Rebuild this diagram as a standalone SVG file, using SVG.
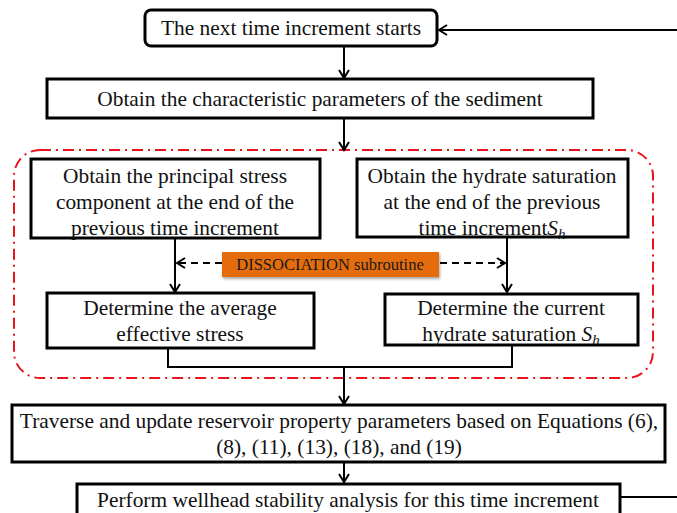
<svg xmlns="http://www.w3.org/2000/svg" width="677" height="513" viewBox="0 0 677 513">
<defs>
<marker id="arr" markerWidth="12" markerHeight="12" refX="10" refY="6" orient="auto" markerUnits="userSpaceOnUse">
<path d="M2,1 L10,6 L2,11" fill="none" stroke="#000" stroke-width="2"/>
</marker>
<filter id="sh" x="-10%" y="-20%" width="130%" height="160%">
<feDropShadow dx="1" dy="2" stdDeviation="1.5" flood-color="#000" flood-opacity="0.35"/>
</filter>
</defs>
<style>
.box{fill:#fff;stroke:#000;stroke-width:3}
.t{font-family:"Liberation Serif","Times New Roman",serif;font-size:21.4px;fill:#111;text-anchor:middle}
.c{fill:none;stroke:#000;stroke-width:2}
.d{fill:none;stroke:#000;stroke-width:2;stroke-dasharray:7 5}
.red{fill:none;stroke:#e8141c;stroke-width:2;stroke-dasharray:11 5 2 5}
</style>
<rect width="677" height="513" fill="#fff"/>
<g id="region">
<rect class="red" x="14" y="150" width="639" height="228" rx="26" ry="26"/>
</g>
<g id="connectors">
<path class="c" d="M677,30 L439,30" marker-end="url(#arr)"/>
<path class="c" d="M344,46 L344,78" marker-end="url(#arr)"/>
<path class="c" d="M344,118 L344,150" marker-end="url(#arr)"/>
<path class="c" d="M175,238 L175,292" marker-end="url(#arr)"/>
<path class="c" d="M507,237 L507,292" marker-end="url(#arr)"/>
<path class="d" d="M222,263 L177,263" marker-end="url(#arr)"/>
<path class="d" d="M440,263 L505,263" marker-end="url(#arr)"/>
<path class="c" d="M168,348 L168,367 L512,367 L512,346"/>
<path class="c" d="M344,367 L344,404" marker-end="url(#arr)"/>
<path class="c" d="M344,462 L344,482" marker-end="url(#arr)"/>
<path class="c" d="M620,497 L677,497"/>
</g>
<g id="n1">
<rect class="box" x="145" y="10" width="292" height="36" rx="6" ry="6"/>
<text class="t" x="291" y="35">The next time increment starts</text>
</g>
<g id="n2">
<rect class="box" x="47" y="79" width="546" height="39"/>
<text class="t" x="320" y="106">Obtain the characteristic parameters of the sediment</text>
</g>
<g id="n3">
<rect class="box" x="31" y="159" width="289" height="79"/>
<text class="t" x="175" y="183">Obtain the principal stress</text>
<text class="t" x="175" y="209">component at the end of the</text>
<text class="t" x="175" y="235">previous time increment</text>
</g>
<g id="n4">
<rect class="box" x="357" y="159" width="271" height="78"/>
<text class="t" x="492" y="183">Obtain the hydrate saturation</text>
<text class="t" x="492" y="209">at the end of the previous</text>
<text class="t" x="492" y="235">time increment<tspan font-style="italic">S</tspan><tspan font-style="italic" font-size="15" dy="4">h</tspan></text>
</g>
<g id="n5">
<rect x="222" y="252" width="217" height="25" fill="#e46c0a" filter="url(#sh)"/>
<text x="330" y="270" font-family="'Liberation Serif','Times New Roman',serif" font-size="16.5" fill="#1a1a1a" text-anchor="middle">DISSOCIATION subroutine</text>
</g>
<g id="n6">
<rect class="box" x="47" y="293" width="267" height="55"/>
<text class="t" x="180" y="315">Determine the average</text>
<text class="t" x="180" y="341">effective stress</text>
</g>
<g id="n7">
<rect class="box" x="385" y="294" width="253" height="51"/>
<text class="t" x="511" y="315">Determine the current</text>
<text class="t" x="511" y="341">hydrate saturation <tspan font-style="italic">S</tspan><tspan font-style="italic" font-size="15" dy="4">h</tspan></text>
</g>
<g id="n8">
<rect class="box" x="12" y="405" width="653" height="57"/>
<text class="t" x="339" y="428">Traverse and update reservoir property parameters based on Equations (6),</text>
<text class="t" x="339" y="454">(8), (11), (13), (18), and (19)</text>
</g>
<g id="n9">
<rect class="box" x="77" y="484" width="543" height="40"/>
<text class="t" x="348" y="507">Perform wellhead stability analysis for this time increment</text>
</g>
</svg>
